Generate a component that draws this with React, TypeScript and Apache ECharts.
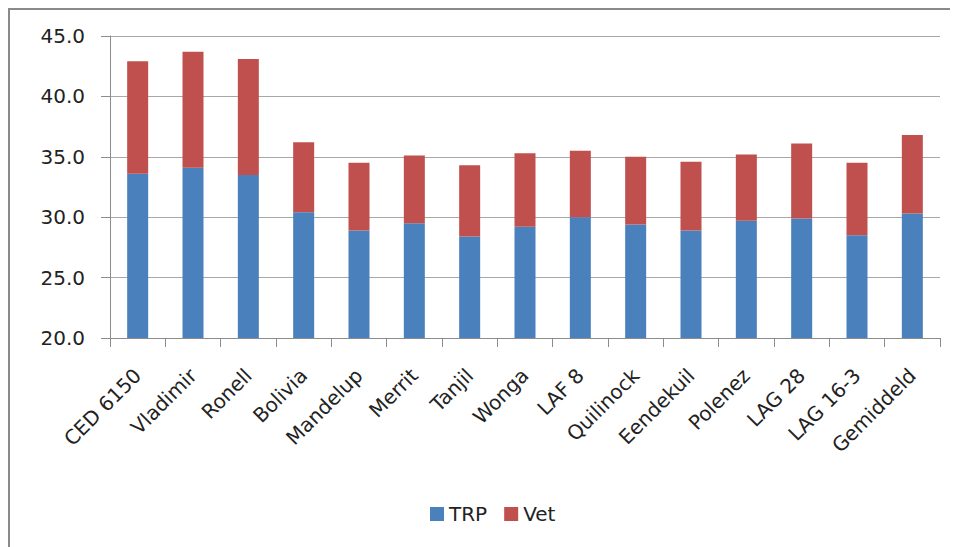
import React, { useEffect, useRef } from "react";
import * as echarts from "echarts";

const categories = [
  "CED 6150", "Vladimir", "Ronell", "Bolivia", "Mandelup", "Merrit", "Tanjil",
  "Wonga", "LAF 8", "Quilinock", "Eendekuil", "Polenez", "LAG 28", "LAG 16-3", "Gemiddeld",
];
const trpValues = [33.6, 34.1, 33.5, 30.4, 28.9, 29.5, 28.4, 29.2, 30.0, 29.4, 28.9, 29.7, 29.9, 28.5, 30.3];
const vetValues = [9.3, 9.6, 9.6, 5.8, 5.6, 5.6, 5.9, 6.1, 5.5, 5.6, 5.7, 5.5, 6.2, 6.0, 6.5];
const yMin = 20;
const yMax = 45;
const yInterval = 5;

const FONT = "DejaVu Sans";

export default function App() {
  const ref = useRef<HTMLDivElement>(null);
  useEffect(() => {
    if (!ref.current) return;
    const chart = echarts.init(ref.current, null, { renderer: "svg" });
    chart.setOption({
      animation: false,
      backgroundColor: "#ffffff",
      graphic: [
        { type: "line", shape: { x1: 0, y1: 1, x2: 950, y2: 1 }, style: { stroke: "#8a8a8a", lineWidth: 2 } },
        { type: "line", shape: { x1: 1, y1: 0, x2: 1, y2: 539 }, style: { stroke: "#8a8a8a", lineWidth: 2 } },
      ],
      grid: { left: 102, right: 18, top: 28, bottom: 209, containLabel: false },
      legend: {
        left: 417,
        top: 491,
        itemWidth: 14,
        itemHeight: 14,
        itemGap: 17,
        icon: "rect",
        textStyle: { fontFamily: FONT, fontSize: 20, color: "#222" },
        data: ["TRP", "Vet"],
      },
      xAxis: {
        type: "category",
        data: categories,
        axisLine: { show: true, lineStyle: { color: "#8c8c8c", width: 1 } },
        axisTick: { show: true, length: 9, alignWithLabel: false, lineStyle: { color: "#8c8c8c" } },
        axisLabel: {
          rotate: 45,
          interval: 0,
          margin: 34,
          fontFamily: FONT,
          fontSize: 20,
          color: "#222",
        },
      },
      yAxis: {
        type: "value",
        min: yMin,
        max: yMax,
        interval: yInterval,
        axisLine: { show: true, lineStyle: { color: "#8c8c8c", width: 1 } },
        axisTick: { show: true, length: 9, lineStyle: { color: "#8c8c8c" } },
        splitLine: { show: true, lineStyle: { color: "#a8a8a8", width: 1 } },
        axisLabel: {
          margin: 25,
          fontFamily: FONT,
          fontSize: 20,
          color: "#222",
          formatter: (v: number) => v.toFixed(1),
        },
      },
      series: [
        {
          name: "TRP",
          type: "bar",
          stack: "total",
          data: trpValues,
          barWidth: 21,
          itemStyle: { color: "#4A81BD" },
        },
        {
          name: "Vet",
          type: "bar",
          stack: "total",
          data: vetValues,
          barWidth: 21,
          itemStyle: { color: "#C0504D" },
        },
      ],
    });
    return () => chart.dispose();
  }, []);
  return <div ref={ref} style={{ width: 950, height: 539 }} />;
}
